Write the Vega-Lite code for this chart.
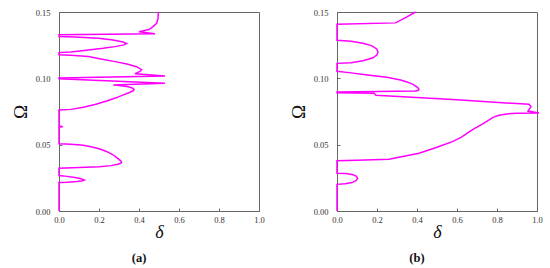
{
  "$schema": "https://vega.github.io/schema/vega-lite/v6.json",
  "padding": {"left": 10, "top": 7, "right": 5, "bottom": 0},
  "background": "white",
  "datasets": {
    "a": [
      {"i":0,"d":0,"w":0},{"i":1,"d":0,"w":0.0215},{"i":2,"d":0.04,"w":0.0217},{"i":3,"d":0.09,"w":0.0222},{"i":4,"d":0.118,"w":0.0228},{"i":5,"d":0.127,"w":0.0234},{"i":6,"d":0.11,"w":0.0243},{"i":7,"d":0.08,"w":0.0252},{"i":8,"d":0.04,"w":0.0261},{"i":9,"d":0,"w":0.0267},
      {"i":10,"d":0,"w":0.0322},{"i":11,"d":0.1,"w":0.0327},{"i":12,"d":0.2,"w":0.0334},{"i":13,"d":0.26,"w":0.0342},{"i":14,"d":0.295,"w":0.0352},{"i":15,"d":0.31,"w":0.036},{"i":16,"d":0.313,"w":0.0367},{"i":17,"d":0.308,"w":0.0378},{"i":18,"d":0.295,"w":0.0395},{"i":19,"d":0.272,"w":0.0422},{"i":20,"d":0.24,"w":0.0447},{"i":21,"d":0.205,"w":0.0467},{"i":22,"d":0.16,"w":0.0484},{"i":23,"d":0.122,"w":0.0495},{"i":24,"d":0.06,"w":0.0503},{"i":25,"d":0,"w":0.0506},
      {"i":26,"d":0,"w":0.0632},{"i":27,"d":0.02,"w":0.0636},{"i":28,"d":0,"w":0.064},
      {"i":29,"d":0,"w":0.0762},{"i":30,"d":0.06,"w":0.0766},{"i":31,"d":0.122,"w":0.0782},{"i":32,"d":0.18,"w":0.0803},{"i":33,"d":0.238,"w":0.0829},{"i":34,"d":0.285,"w":0.0853},{"i":35,"d":0.322,"w":0.0875},{"i":36,"d":0.352,"w":0.0893},{"i":37,"d":0.372,"w":0.0907},{"i":38,"d":0.375,"w":0.0917},{"i":39,"d":0.365,"w":0.0928},{"i":40,"d":0.34,"w":0.0939},{"i":41,"d":0.3,"w":0.0946},{"i":42,"d":0.272,"w":0.095},
      {"i":43,"d":0.53,"w":0.0963},{"i":44,"d":0,"w":0.0997},{"i":45,"d":0,"w":0.1003},{"i":46,"d":0.53,"w":0.1018},{"i":47,"d":0.38,"w":0.1035},{"i":48,"d":0.405,"w":0.1052},{"i":49,"d":0.413,"w":0.1065},{"i":50,"d":0.388,"w":0.1088},{"i":51,"d":0.34,"w":0.1108},{"i":52,"d":0.28,"w":0.1126},{"i":53,"d":0.21,"w":0.1146},{"i":54,"d":0.147,"w":0.1164},{"i":55,"d":0.06,"w":0.1174},{"i":56,"d":0,"w":0.1177},
      {"i":57,"d":0,"w":0.1194},{"i":58,"d":0.06,"w":0.1198},{"i":59,"d":0.147,"w":0.1214},{"i":60,"d":0.22,"w":0.1226},{"i":61,"d":0.28,"w":0.1239},{"i":62,"d":0.325,"w":0.1252},{"i":63,"d":0.338,"w":0.1262},{"i":64,"d":0.32,"w":0.1274},{"i":65,"d":0.27,"w":0.1289},{"i":66,"d":0.197,"w":0.1302},{"i":67,"d":0.08,"w":0.1312},{"i":68,"d":0,"w":0.1315},
      {"i":69,"d":0,"w":0.1328},{"i":70,"d":0.48,"w":0.1336},{"i":71,"d":0.4,"w":0.1352},{"i":72,"d":0.45,"w":0.1368},{"i":73,"d":0.47,"w":0.139},{"i":74,"d":0.488,"w":0.1415},{"i":75,"d":0.495,"w":0.145},{"i":76,"d":0.497,"w":0.15}
    ],
    "b": [
      {"i":0,"d":0,"w":0},{"i":1,"d":0,"w":0.0201},{"i":2,"d":0.04,"w":0.0205},{"i":3,"d":0.075,"w":0.0214},{"i":4,"d":0.095,"w":0.0228},{"i":5,"d":0.103,"w":0.0245},{"i":6,"d":0.097,"w":0.0262},{"i":7,"d":0.08,"w":0.0274},{"i":8,"d":0.045,"w":0.0282},{"i":9,"d":0,"w":0.0285},
      {"i":10,"d":0,"w":0.0378},{"i":11,"d":0.1,"w":0.0382},{"i":12,"d":0.26,"w":0.039},{"i":13,"d":0.41,"w":0.0435},{"i":14,"d":0.5,"w":0.048},{"i":15,"d":0.577,"w":0.0523},{"i":16,"d":0.62,"w":0.0555},{"i":17,"d":0.68,"w":0.0615},{"i":18,"d":0.735,"w":0.0663},{"i":19,"d":0.78,"w":0.0706},{"i":20,"d":0.81,"w":0.0722},{"i":21,"d":0.85,"w":0.0732},{"i":22,"d":0.9,"w":0.0736},{"i":23,"d":1.01,"w":0.0739},{"i":24,"d":0.955,"w":0.0753},{"i":25,"d":0.97,"w":0.0787},{"i":26,"d":0.96,"w":0.0804},{"i":27,"d":0.6,"w":0.0838},{"i":28,"d":0.195,"w":0.0872},{"i":29,"d":0.185,"w":0.0888},{"i":30,"d":0,"w":0.0891},
      {"i":31,"d":0,"w":0.0897},{"i":32,"d":0.2,"w":0.09},{"i":33,"d":0.39,"w":0.0904},{"i":34,"d":0.405,"w":0.0908},{"i":35,"d":0.41,"w":0.0917},{"i":36,"d":0.402,"w":0.0932},{"i":37,"d":0.38,"w":0.0955},{"i":38,"d":0.35,"w":0.0973},{"i":39,"d":0.318,"w":0.0988},{"i":40,"d":0.25,"w":0.1008},{"i":41,"d":0.152,"w":0.1025},{"i":42,"d":0.06,"w":0.1043},{"i":43,"d":0,"w":0.1053},
      {"i":44,"d":0,"w":0.1113},{"i":45,"d":0.07,"w":0.1118},{"i":46,"d":0.13,"w":0.1132},{"i":47,"d":0.18,"w":0.1155},{"i":48,"d":0.2,"w":0.1177},{"i":49,"d":0.205,"w":0.1198},{"i":50,"d":0.198,"w":0.1222},{"i":51,"d":0.175,"w":0.1245},{"i":52,"d":0.13,"w":0.1265},{"i":53,"d":0.07,"w":0.128},{"i":54,"d":0,"w":0.1287},
      {"i":55,"d":0,"w":0.1408},{"i":56,"d":0.293,"w":0.1418},{"i":57,"d":0.343,"w":0.1458},{"i":58,"d":0.393,"w":0.15}
    ]
  },
  "hconcat": [
    {
      "data": {"name": "a"},
      "width": 200,
      "height": 199,
      "title": {"text": "(a)", "orient": "bottom", "dx": -20},
      "mark": {"type": "line", "color": "#FF00FF", "strokeWidth": 1.5},
      "encoding": {
        "x": {"field": "d", "type": "quantitative", "scale": {"domain": [0, 1], "nice": false}, "axis": {"title": "δ", "values": [0, 0.2, 0.4, 0.6, 0.8, 1.0], "format": ".1f"}},
        "y": {"field": "w", "type": "quantitative", "scale": {"domain": [0, 0.15], "nice": false}, "axis": {"title": "Ω", "values": [0, 0.05, 0.1, 0.15], "format": ".2f"}},
        "order": {"field": "i", "type": "quantitative"}
      }
    },
    {
      "data": {"name": "b"},
      "width": 200,
      "height": 199,
      "title": {"text": "(b)", "orient": "bottom", "dx": -20},
      "mark": {"type": "line", "color": "#FF00FF", "strokeWidth": 1.5},
      "encoding": {
        "x": {"field": "d", "type": "quantitative", "scale": {"domain": [0, 1], "nice": false}, "axis": {"title": "δ", "values": [0, 0.2, 0.4, 0.6, 0.8, 1.0], "format": ".1f"}},
        "y": {"field": "w", "type": "quantitative", "scale": {"domain": [0, 0.15], "nice": false}, "axis": {"title": "Ω", "values": [0, 0.05, 0.1, 0.15], "format": ".2f"}},
        "order": {"field": "i", "type": "quantitative"}
      }
    }
  ],
  "spacing": 23,
  "config": {
    "view": {"stroke": "#666666", "strokeWidth": 1},
    "axis": {
      "grid": false,
      "labelFlush": false,
      "domainColor": "#666666",
      "tickColor": "#666666",
      "tickSize": -3,
      "labelFont": "Liberation Serif",
      "labelFontSize": 8.5,
      "labelColor": "#333333",
      "titleFont": "Liberation Serif",
      "titleColor": "#111111",
      "titleFontWeight": "normal"
    },
    "axisX": {"labelPadding": 7, "titleFontSize": 18, "titleFontStyle": "italic", "titlePadding": 0},
    "axisY": {"labelPadding": 12, "titleFontSize": 19, "titlePadding": 5},
    "title": {"font": "Liberation Serif", "fontSize": 12.5, "fontWeight": "bold", "color": "#111111", "offset": 10}
  }
}
